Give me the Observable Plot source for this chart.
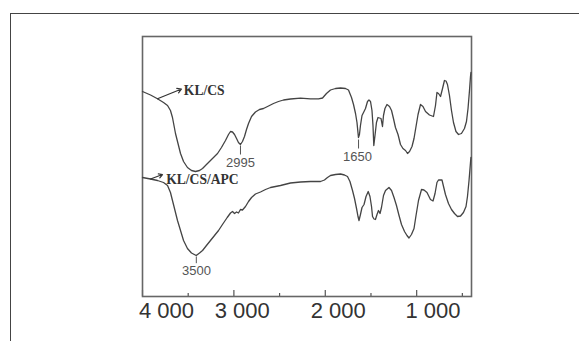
<!DOCTYPE html>
<html>
<head>
<meta charset="utf-8">
<script src="https://cdn.jsdelivr.net/npm/d3@7"></script>
<script src="https://cdn.jsdelivr.net/npm/@observablehq/plot@0.6"></script>
<style>
  html, body { margin: 0; padding: 0; background: #fff; }
  #wrap { position: relative; width: 579px; height: 341px; overflow: hidden; }
  #outer { position: absolute; left: 10px; top: 13px; right: -5px; bottom: -5px;
           border-top: 1.5px solid #444; border-left: 1.5px solid #444; pointer-events: none; }
  #wrap svg { position: absolute; left: 0; top: 0; }
</style>
</head>
<body>
<div id="wrap"><div id="outer"></div></div>
<script>
// KL/CS spectrum (wavenumber cm-1, transmittance in arbitrary units)
const wnKLCS = [4000,3912,3836,3770,3726,3694,3672,3639,3606,3584,3551,3508,3464,3420,3376,3343,3300,3256,3212,3179,3136,3092,3059,3037,3015,2993,2971,2950,2928,2906,2884,2862,2840,2807,2764,2720,2676,2621,2567,2512,2457,2381,2271,2162,2074,2030,1987,1943,1888,1833,1779,1746,1713,1691,1669,1653,1637,1626,1615,1598,1576,1560,1538,1522,1505,1489,1478,1469,1456,1440,1423,1407,1390,1374,1363,1347,1325,1297,1275,1254,1232,1204,1177,1150,1122,1100,1078,1051,1029,1007,985,958,931,903,860,816,794,778,761,739,717,696,679,663,641,619,597,570,542,510,477,455,438,422,411,406];
const tKLCS = [205,201.5,197.7,194,191,186,179,163,151,143,135,129,126,125,126,128,132,136,140,143,149,156,162,165,164.5,162,158,154,152,155,160,167,173,180,184.5,187,188,190.5,193,195,196.5,197.5,198.3,197.7,197.7,198.5,203,206.5,208,208.5,208,206.5,199,192,183,174,159,162,171,181,185,188,195,196.5,195,186,171,151,161,174,179,178.5,178,170,181,188,192,190,186,178,169,162,152,148,146,143,145,150,158,170,182,192,190,185,181.5,180,191,204,203,200,208,216,215.5,212,201,186,174,165,162,163,168,175,188,206,220,224];

// KL/CS/APC spectrum
const wnAPC = [4000,3912,3836,3770,3726,3694,3672,3639,3617,3584,3551,3508,3464,3412,3376,3343,3300,3256,3212,3168,3125,3073,3037,3015,2993,2971,2950,2928,2906,2873,2840,2807,2764,2709,2654,2599,2490,2381,2271,2162,2052,2009,1976,1943,1888,1833,1790,1757,1730,1702,1680,1658,1642,1631,1615,1598,1576,1554,1530,1511,1494,1483,1467,1451,1434,1418,1401,1385,1363,1341,1303,1275,1248,1221,1193,1166,1133,1106,1084,1057,1029,1007,980,947,920,887,849,821,799,778,761,723,706,685,652,619,586,553,520,488,460,444,427,411,406];
const tAPC = [119,117.5,116,114,111,104,96,84,76,66,56,48,43.5,41,43.5,46,51,56,61,66,72,79,83.5,85,83,84.5,83.5,87,86.5,90,95,99,102.5,104.5,107,109,111,113.5,114.5,115,115,116.5,119,121,122,122.5,121.5,120,115,106,98,88,80,76,82,89,92,100,105,100,90,80,77.5,77,82,86,83,89,101,106,109,106,99,91,81,72,65,61,58.5,62,68,81,96,107,106.5,104,97,95.5,103,114,116.5,116.5,110,102,93,87,83,80,80.5,84,90,100,116,134,139];

// Axis ticks and labels
const majorTicks = [4000, 3000, 2000, 1000];
const minorTicks = [3500, 2500, 1500, 500];
const tickLabels = ["4 000", "3 000", "2 000", "1 000"];
const tickLabelWn = [3737, 2909, 1859, 821];

// Peak annotations
const peakLabels = ["2995", "1650", "3500"];
const peakWn = [2928, 1636, 3411];
const peakT = [152, 158, 41];
const peakLabelWn = [2928, 1648, 3409];
const peakLabelT = [134, 140, 25.3];

// Series labels with arrows
const seriesNames = ["KL/CS", "KL/CS/APC"];
const arrowWnFrom = [3836, 3912];
const arrowTFrom = [197.7, 117.5];
const arrowWnTo = [3573, 3781];
const arrowTTo = [207.5, 122];
const nameWn = [3548, 3741];
const nameT = [206, 117];

const klcs = wnKLCS.map((w, i) => ({wn: w, t: tKLCS[i]}));
const apc = wnAPC.map((w, i) => ({wn: w, t: tAPC[i]}));
const peaks = peakLabels.map((l, i) => ({label: l, wn: peakWn[i], t: peakT[i], lwn: peakLabelWn[i], lt: peakLabelT[i]}));
const names = seriesNames.map((n, i) => ({name: n, x1: arrowWnFrom[i], y1: arrowTFrom[i], x2: arrowWnTo[i], y2: arrowTTo[i], nx: nameWn[i], ny: nameT[i]}));
const ticks = tickLabels.map((l, i) => ({label: l, wn: tickLabelWn[i]}));

const pxPerUnit = 260 / 260;
const sans = "'Liberation Sans', Arial, sans-serif";
const serif = "'Liberation Serif', 'Times New Roman', serif";

const chart = Plot.plot({
  width: 579,
  height: 341,
  marginLeft: 142,
  marginRight: 108,
  marginTop: 36,
  marginBottom: 45,
  x: {domain: [4000, 400], axis: null},
  y: {domain: [0, 260], axis: null},
  style: {background: "transparent"},
  marks: [
    Plot.ruleX(majorTicks, {x: d => d, y1: 0, y2: 6 / pxPerUnit, stroke: "#555", strokeWidth: 1.2}),
    Plot.ruleX(minorTicks, {x: d => d, y1: 0, y2: 3 / pxPerUnit, stroke: "#555", strokeWidth: 1.2}),
    Plot.frame({stroke: "#666", strokeWidth: 1.6}),
    Plot.line(klcs, {x: "wn", y: "t", stroke: "#444", strokeWidth: 1.3, curve: "linear"}),
    Plot.line(apc, {x: "wn", y: "t", stroke: "#444", strokeWidth: 1.3, curve: "linear"}),
    Plot.link(peaks, {x1: "wn", x2: "wn", y1: d => d.t - 1, y2: d => d.lt + 8, stroke: "#555", strokeWidth: 1}),
    Plot.text(peaks, {x: "lwn", y: "lt", text: "label", fontFamily: sans, fontSize: 13, fill: "#555"}),
    Plot.arrow(names, {x1: "x1", y1: "y1", x2: "x2", y2: "y2", stroke: "#333", strokeWidth: 1.2, headLength: 6, insetEnd: 0}),
    Plot.text(names, {x: "nx", y: "ny", text: "name", textAnchor: "start", fontFamily: serif, fontWeight: "bold", fontSize: 13.6, fill: "#333"}),
    Plot.text(ticks, {x: "wn", frameAnchor: "bottom", dy: 21, text: "label", fontFamily: sans, fontSize: 22, fill: "#333"})
  ]
});
document.getElementById("wrap").appendChild(chart);
</script>
</body>
</html>
